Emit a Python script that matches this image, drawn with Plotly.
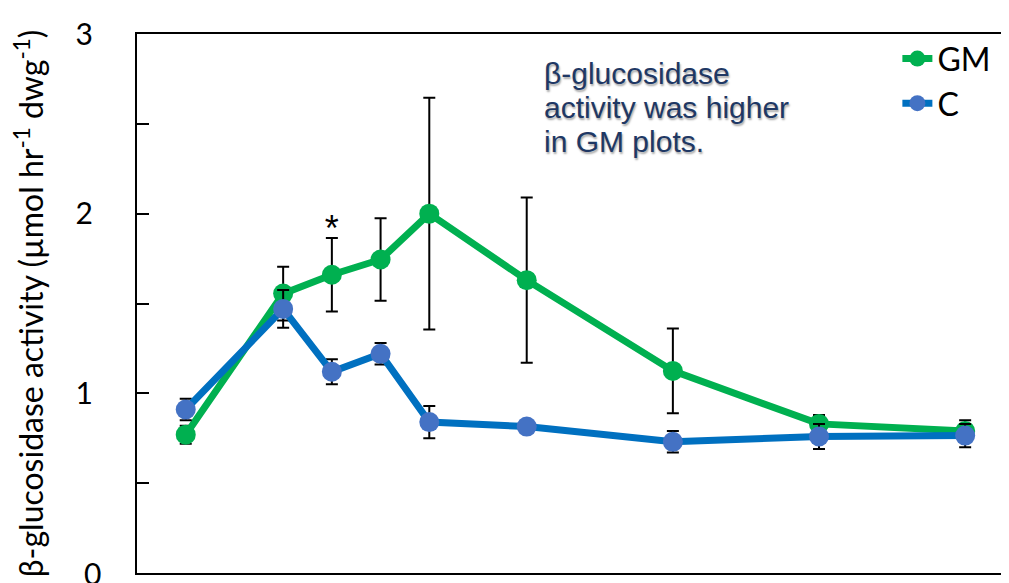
import plotly.graph_objects as go

days = [0, 2, 3, 4, 5, 7, 10, 13, 16]
gm_mean = [0.77, 1.555, 1.66, 1.745, 2.0, 1.63, 1.125, 0.83, 0.79]
gm_err = [0.05, 0.15, 0.205, 0.23, 0.645, 0.46, 0.236, 0.05, 0.06]
c_mean = [0.91, 1.47, 1.12, 1.22, 0.84, 0.815, 0.73, 0.76, 0.765]
c_err = [0.06, 0.105, 0.07, 0.06, 0.09, 0.02, 0.06, 0.07, 0.065]
star_day = [3]
star_y = [1.90]
note_lines = ["β-glucosidase", "activity was higher", "in GM plots."]
bottom_tick = 0

fig = go.Figure()
fig.add_trace(go.Scatter(
    x=days, y=gm_mean, name="GM", mode="lines+markers",
    line=dict(color="#00B050", width=7),
    marker=dict(color="#00B050", size=20),
    error_y=dict(type="data", array=gm_err, color="black", thickness=2, width=6),
))
fig.add_trace(go.Scatter(
    x=days, y=c_mean, name="C", mode="lines+markers",
    line=dict(color="#0070C0", width=7),
    marker=dict(color="#4472C4", size=20),
    error_y=dict(type="data", array=c_err, color="black", thickness=2, width=6),
))
fig.add_trace(go.Scatter(
    x=star_day, y=star_y, mode="text", text=["*"], showlegend=False,
    textfont=dict(size=36, color="black", family="Liberation Sans"),
    hoverinfo="skip",
))

for i, line in enumerate(note_lines):
    fig.add_annotation(
        x=0.465, y=0.926 - i * 0.0625, xref="paper", yref="paper",
        xanchor="left", yanchor="middle",
        text=line, showarrow=False, align="left",
        font=dict(family="Liberation Sans", size=30, color="#1F3864",
                  shadow="1px 2px 2px rgba(0,0,0,0.35)"),
    )

# the bottom tick label (plotly hides it at the very edge of the page)
fig.add_annotation(
    x=0, y=bottom_tick, xref="paper", yref="y", xanchor="right", yanchor="middle",
    xshift=-34, text=str(bottom_tick), showarrow=False,
    font=dict(size=30, family="Lato", color="black"),
)

fig.update_layout(
    width=1001, height=575,
    margin=dict(l=129, r=0, t=26, b=10),
    paper_bgcolor="white", plot_bgcolor="white",
    font=dict(family="Lato", color="black"),
    showlegend=True,
    legend=dict(x=0.872, y=1.005, xanchor="left", yanchor="top",
                font=dict(size=32, family="Lato"), bgcolor="rgba(0,0,0,0)",
                itemsizing="trace"),
    xaxis=dict(range=[-1, 16.9], showline=True, linecolor="black", linewidth=2,
               mirror=True, showticklabels=False, ticks="", showgrid=False,
               zeroline=False),
    yaxis=dict(range=[0, 3], dtick=1, showline=True, linecolor="black", linewidth=2,
               ticks="inside", ticklen=12, tickwidth=2, tickcolor="black",
               minor=dict(dtick=0.5, ticks="inside", ticklen=12, tickwidth=2, tickcolor="black"),
               showgrid=False, zeroline=False, ticklabelstandoff=36,
               tickfont=dict(size=30, family="Lato"),
               title=dict(text="β-glucosidase activity (µmol hr<sup>-1</sup> dwg<sup>-1</sup>)",
                          font=dict(size=32, family="Lato"), standoff=27)),
)

fig.write_html("out.html")
